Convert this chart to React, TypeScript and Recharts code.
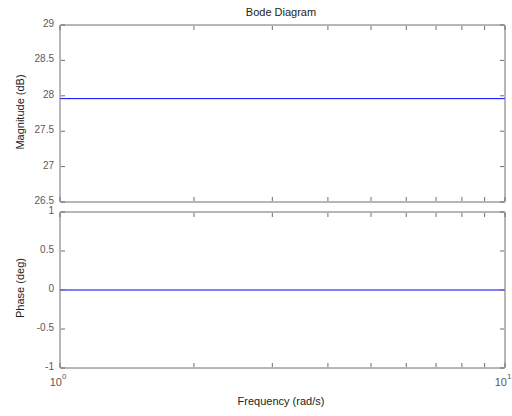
import { Line, LineChart, XAxis, YAxis } from "recharts"

const frequencies = [1, 10]
const magnitude = [27.96, 27.96]
const phase = [0, 0]
const freqTicks = [1, 2, 3, 4, 5, 6, 7, 8, 9, 10]
const magTicks = [26.5, 27, 27.5, 28, 28.5, 29]
const phaseTicks = [-1, -0.5, 0, 0.5, 1]

const magData = frequencies.map((f, i) => ({ f, v: magnitude[i] }))
const phaseData = frequencies.map((f, i) => ({ f, v: phase[i] }))

const FRAME = "#6e6e6e"
const TEXT = "#5a5a5a"
const FONT = "Liberation Sans, Arial, sans-serif"

const BottomTick = (props: any) => {
  const { x, y, payload, showLabel } = props
  const v = payload.value
  const labeled = showLabel && (v === 1 || v === 10)
  return (
    <g>
      <line x1={x} y1={y - 1} x2={x} y2={y - 5} stroke={FRAME} />
      {labeled && (
        <text x={x - 2} y={y + 18} textAnchor="middle" fontSize={11} fill={TEXT} fontFamily={FONT}>
          10
          <tspan dy={-7} fontSize={8}>{v === 1 ? "0" : "1"}</tspan>
        </text>
      )}
    </g>
  )
}

const TopTick = (props: any) => {
  const { x, y } = props
  return <line x1={x} y1={y + 1} x2={x} y2={y + 5} stroke={FRAME} />
}

const LeftTick = (props: any) => {
  const { x, y, payload } = props
  return (
    <g>
      <line x1={x + 1} y1={y} x2={x + 5} y2={y} stroke={FRAME} />
      <text x={x - 6} y={y + 2} textAnchor="end" fontSize={10} fill={TEXT} fontFamily={FONT}>
        {String(payload.value)}
      </text>
    </g>
  )
}

const RightTick = (props: any) => {
  const { x, y } = props
  return <line x1={x - 1} y1={y} x2={x - 5} y2={y} stroke={FRAME} />
}

function Panel({ data, ticks, domain, top, height, bottom, showLabels }: any) {
  return (
    <div style={{ position: "absolute", left: 0, top: 0 }}>
      <LineChart width={512} height={height} data={data} margin={{ top, right: 6, bottom, left: 0 }}>
        <XAxis
          xAxisId="b"
          dataKey="f"
          type="number"
          scale="log"
          domain={[1, 10]}
          ticks={freqTicks}
          interval={0}
          height={1}
          tickSize={0}
          tickMargin={0}
          tickLine={false}
          axisLine={{ stroke: FRAME }}
          tick={<BottomTick showLabel={showLabels} />}
        />
        <XAxis
          xAxisId="t"
          orientation="top"
          dataKey="f"
          type="number"
          scale="log"
          domain={[1, 10]}
          ticks={freqTicks}
          interval={0}
          height={1}
          tickSize={0}
          tickMargin={0}
          tickLine={false}
          axisLine={{ stroke: FRAME }}
          tick={<TopTick />}
        />
        <YAxis
          yAxisId="l"
          type="number"
          domain={domain}
          ticks={ticks}
          interval={0}
          width={60}
          tickSize={0}
          tickMargin={0}
          tickLine={false}
          axisLine={{ stroke: FRAME }}
          tick={<LeftTick />}
        />
        <YAxis
          yAxisId="r"
          orientation="right"
          type="number"
          domain={domain}
          ticks={ticks}
          interval={0}
          width={1}
          tickSize={0}
          tickMargin={0}
          tickLine={false}
          axisLine={{ stroke: FRAME }}
          tick={<RightTick />}
        />
        <Line
          xAxisId="b"
          yAxisId="l"
          dataKey="v"
          stroke="#0000ff"
          strokeWidth={1}
          dot={false}
          isAnimationActive={false}
        />
        <Line
          xAxisId="t"
          yAxisId="r"
          dataKey="v"
          stroke="none"
          dot={false}
          legendType="none"
          isAnimationActive={false}
        />
      </LineChart>
    </div>
  )
}

export default function App() {
  return (
    <div style={{ position: "absolute", left: 0, top: 0, width: 512, height: 416, background: "#fff" }}>
      <Panel data={magData} ticks={magTicks} domain={[26.5, 29]} top={24} height={210} bottom={7} showLabels={false} />
      <Panel data={phaseData} ticks={phaseTicks} domain={[-1, 1]} top={211} height={416} bottom={47} showLabels={true} />
      <svg width={512} height={416} style={{ position: "absolute", left: 0, top: 0, pointerEvents: "none" }}>
        <text x={281} y={16} textAnchor="middle" fontSize={11} fill="#222" fontFamily={FONT}>
          Bode Diagram
        </text>
        <text x={281} y={405} textAnchor="middle" fontSize={11} fill="#222" fontFamily={FONT}>
          Frequency  (rad/s)
        </text>
        <text x={24} y={112} textAnchor="middle" fontSize={11} fill="#222" fontFamily={FONT} transform="rotate(-90 24 112)">
          Magnitude (dB)
        </text>
        <text x={24} y={288} textAnchor="middle" fontSize={11} fill="#222" fontFamily={FONT} transform="rotate(-90 24 288)">
          Phase (deg)
        </text>
      </svg>
    </div>
  )
}
